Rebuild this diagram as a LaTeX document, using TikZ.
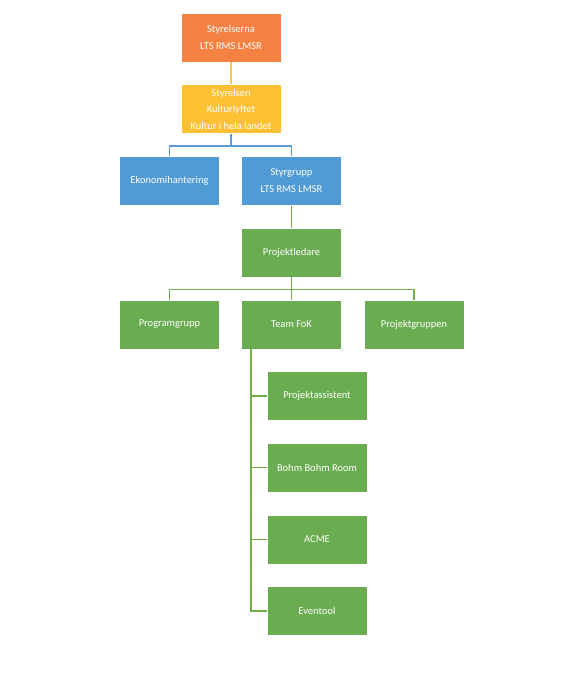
\documentclass[tikz,border=0pt]{standalone}
\usepackage{fontspec}
\setmainfont{Carlito}
\usepackage{xcolor}
\usepackage{tikz}
\usetikzlibrary{positioning}

\definecolor{orgorange}{HTML}{F58242}
\definecolor{orgyellow}{HTML}{FFC133}
\definecolor{orgblue}{HTML}{509BD5}
\definecolor{orggreen}{HTML}{6AAD50}
\definecolor{lineyellow}{HTML}{FFCA4A}
\definecolor{lineblue}{HTML}{5B9BD5}
\definecolor{linegreen}{HTML}{70AD47}

\begin{document}
\begin{tikzpicture}[auto, node distance=71.7bp, line width=1.5bp]
\tikzstyle{orgbox}=[shape=rectangle, draw=white, line width=0.6bp,
                    text=white, align=center, inner sep=1pt,
                    minimum width=100bp, minimum height=49bp,
                    font=\fontsize{10.5bp}{16.7bp}\selectfont]
\tikzstyle{orgline}=[line width=1.5bp]
  \useasboundingbox (0,0) rectangle (578bp,-676bp);
  \node[orgbox, fill=orgorange] (Sa) at (231bp,-37.5bp) {Styrelserna\\LTS RMS LMSR};
  \node[orgbox, fill=orgyellow] (Sn) [below of=Sa] {Styrelsen\\Kulturlyftet\\Kultur i hela landet};
  %
  \node[orgbox, fill=orgblue] (Ek) [below of=Sn, xshift=-61.5bp] {Ekonomihantering};
  \node[orgbox, fill=orgblue] (Sg) [below of=Sn, xshift=60.5bp] {Styrgrupp\\LTS RMS LMSR};
  %
  \node[orgbox, fill=orggreen] (Pl) [below of=Sg] {Projektledare};
  \node[orgbox, fill=orggreen] (Pg) [below of=Pl, xshift=-122bp] {Programgrupp};
  \node[orgbox, fill=orggreen] (Tf) [below of=Pl] {Team FoK};
  \node[orgbox, fill=orggreen] (Pj) [below of=Pl, xshift=122.5bp] {Projektgruppen};
  %
  \node[orgbox, fill=orggreen] (Pa) [below of=Tf, xshift=25.5bp] {Projektassistent};
  \node[orgbox, fill=orggreen] (Bb) [below of=Pa] {Bohm Bohm Room};
  \node[orgbox, fill=orggreen] (Ac) [below of=Bb] {ACME};
  \node[orgbox, fill=orggreen] (Ev) [below of=Ac] {Eventool};
  %
  \coordinate (bus1) at ([yshift=-12bp]Sn.south);
  \coordinate (bus2) at ([yshift=-12bp]Pl.south);
  \coordinate (trunk) at ([xshift=10bp]Tf.south west);
  %
  \draw[orgline, lineyellow] (Sa) -- (Sn);
  \draw[orgline, lineblue] (Sn.south) -- (bus1) -| (Ek.north);
  \draw[orgline, lineblue] (bus1) -| (Sg.north);
  \draw[orgline, linegreen] (Sg) -- (Pl);
  \draw[orgline, linegreen] (Pl.south) -- (bus2) -| (Pg.north);
  \draw[orgline, linegreen] (bus2) -| (Pj.north);
  \draw[orgline, linegreen] (bus2) -- (Tf.north);
  \draw[orgline, linegreen] (trunk) |- (Ev.west);
  \draw[orgline, linegreen] (trunk) |- (Pa.west);
  \draw[orgline, linegreen] (trunk) |- (Bb.west);
  \draw[orgline, linegreen] (trunk) |- (Ac.west);
\end{tikzpicture}
\end{document}
